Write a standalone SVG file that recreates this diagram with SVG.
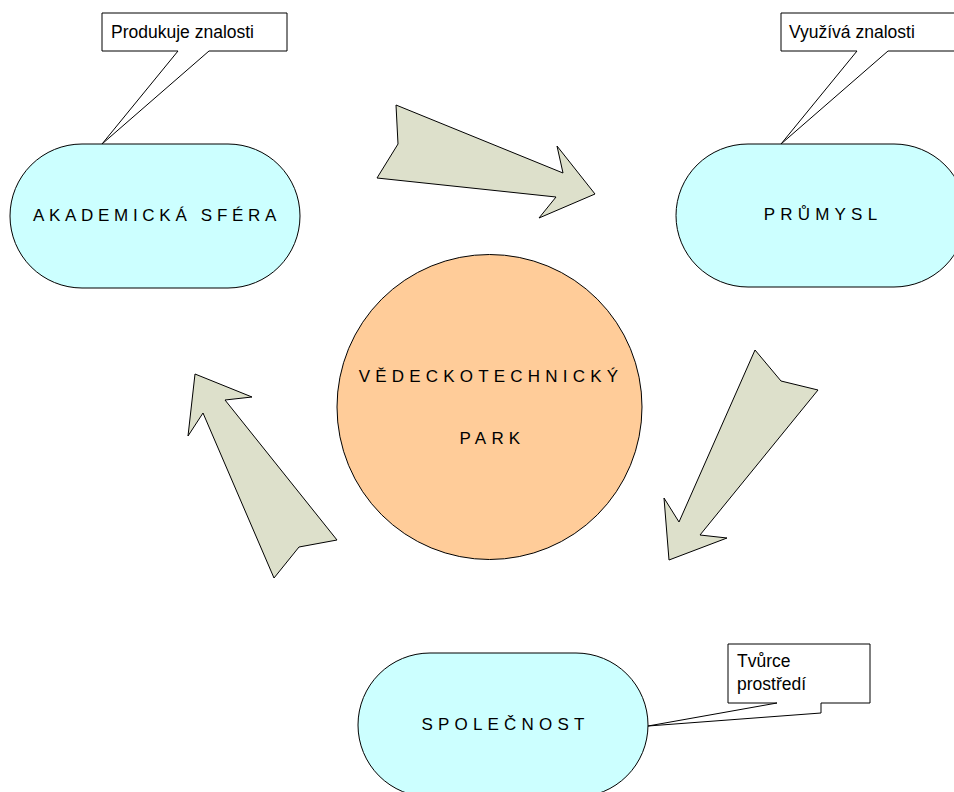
<svg xmlns="http://www.w3.org/2000/svg" width="954" height="792" viewBox="0 0 954 792">
  <style>
    .pill { fill: #CCFFFF; stroke: #000; stroke-width: 1; }
    .hub { fill: #FFCC99; stroke: #000; stroke-width: 1; }
    .flow { fill: #DDE0CB; stroke: #000; stroke-width: 1; stroke-linejoin: miter; }
    .note { fill: #FFFFFF; stroke: #000; stroke-width: 1; }
    .label { font-family: "Liberation Sans", Arial, sans-serif; font-size: 17px; fill: #000; letter-spacing: 5.2px; text-anchor: middle; }
    .note-text { font-family: "Liberation Sans", Arial, sans-serif; font-size: 17.5px; fill: #000; }
  </style>
  <rect width="954" height="792" fill="#FFFFFF"/>

  <!-- flow arrows between the three spheres -->
  <g id="connectors">
    <polygon class="flow" points="396,105 398,144 377,178 556,197 539,218 595,194 557,146 563,173"/>
    <polygon class="flow" points="755,350 781,381 818,390 700,535 727,538 669,560 664,498 679,522"/>
    <polygon class="flow" points="195,374 252,397 225,400 337,540 299,547 274,578 203,413 188,436"/>
  </g>

  <!-- callouts -->
  <g id="note-produkuje">
    <polygon class="note" points="102,13 287,13 287,51 209,51 102,144 178,51 102,51"/>
    <text class="note-text" x="111" y="38">Produkuje znalosti</text>
  </g>
  <g id="note-vyuziva">
    <polygon class="note" points="781,13 962,13 962,51 888,51 781,144 857,51 781,51"/>
    <text class="note-text" x="789" y="38">Využívá znalosti</text>
  </g>
  <g id="note-tvurce">
    <polygon class="note" points="728,644 870,644 870,703 821,703 821,713 648,726 777,703 728,703"/>
    <text class="note-text" x="737" y="667">Tvůrce</text>
    <text class="note-text" x="737" y="690">prostředí</text>
  </g>

  <!-- spheres -->
  <g id="akademicka-sfera">
    <rect class="pill" x="10" y="144" width="290" height="144" rx="72" ry="72"/>
    <text class="label" x="157" y="221" style="letter-spacing:4.7px">AKADEMICKÁ SFÉRA</text>
  </g>
  <g id="prumysl">
    <rect class="pill" x="676" y="144" width="290" height="143" rx="72" ry="72"/>
    <text class="label" x="823" y="220">PRŮMYSL</text>
  </g>
  <g id="spolecnost">
    <rect class="pill" x="358" y="653" width="290" height="144" rx="72" ry="72"/>
    <text class="label" x="505.5" y="730">SPOLEČNOST</text>
  </g>
  <g id="vedeckotechnicky-park">
    <circle class="hub" cx="489.5" cy="407" r="152.5"/>
    <text class="label" x="491" y="382">VĚDECKOTECHNICKÝ</text>
    <text class="label" x="492.5" y="444">PARK</text>
  </g>
</svg>
